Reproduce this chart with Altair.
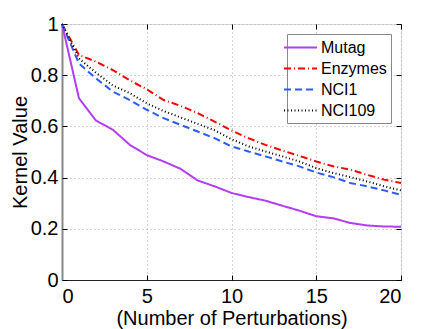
import altair as alt
import pandas as pd

perturbations = list(range(21))
mutag = [1.0, 0.71, 0.623, 0.587, 0.528, 0.488, 0.463, 0.434, 0.389, 0.366, 0.34,
         0.324, 0.31, 0.29, 0.271, 0.249, 0.241, 0.223, 0.213, 0.209, 0.208]
enzymes = [1.0, 0.879, 0.853, 0.82, 0.78, 0.745, 0.703, 0.68, 0.652, 0.619, 0.584,
           0.554, 0.528, 0.506, 0.485, 0.463, 0.444, 0.431, 0.411, 0.392, 0.379]
nci1 = [1.0, 0.846, 0.788, 0.736, 0.703, 0.665, 0.632, 0.606, 0.58, 0.554, 0.522,
        0.502, 0.483, 0.463, 0.444, 0.42, 0.402, 0.379, 0.366, 0.35, 0.333]
nci109 = [1.0, 0.865, 0.81, 0.76, 0.73, 0.69, 0.66, 0.635, 0.61, 0.585, 0.55,
          0.522, 0.502, 0.483, 0.463, 0.437, 0.418, 0.402, 0.385, 0.366, 0.35]

series_names = ["Mutag", "Enzymes", "NCI1", "NCI109"]
series_colors = ["#b43cf5", "#ff0000", "#2a5cff", "#000000"]
series_dashes = [[1, 0], [7, 3, 1, 3], [7, 4], [1, 2.5]]
x_ticks = [0, 5, 10, 15, 20]
y_ticks = [0, 0.2, 0.4, 0.6, 0.8, 1.0]

rows = []
for name, vals in zip(series_names, [mutag, enzymes, nci1, nci109]):
    for xv, yv in zip(perturbations, vals):
        rows.append({"x": xv, "y": yv, "series": name})
df = pd.DataFrame(rows)

FONT = "Liberation Sans"
W, H = 339, 256

xs = alt.Scale(domain=[0, 20], nice=False)
ys = alt.Scale(domain=[0, 1], nice=False)

main = alt.Chart(df).mark_line(strokeWidth=2).encode(
    x=alt.X("x:Q", scale=xs,
            axis=alt.Axis(values=x_ticks, title="(Number of Perturbations)",
                          grid=True, gridDash=[1, 3], gridColor="#aaa", gridOpacity=1,
                          ticks=False, domainColor="#222", labelPadding=6,
                          labelFontSize=20, titleFontSize=20, titlePadding=2,
                          labelFont=FONT, titleFont=FONT, titleFontWeight="normal",
                          labelColor="#000", titleColor="#000")),
    y=alt.Y("y:Q", scale=ys,
            axis=alt.Axis(values=y_ticks, format="~g", title="Kernel Value",
                          grid=True, gridDash=[1, 3], gridColor="#aaa", gridOpacity=1,
                          ticks=False, domainColor="#888", domainWidth=2, labelPadding=4,
                          labelFontSize=20, titleFontSize=20, titlePadding=0,
                          labelFont=FONT, titleFont=FONT, titleFontWeight="normal",
                          labelColor="#000", titleColor="#000")),
    color=alt.Color("series:N", scale=alt.Scale(domain=series_names, range=series_colors),
                    legend=alt.Legend(title=None, orient="none", legendX=225, legendY=10,
                                      symbolType="M-2,0H2", symbolSize=272, symbolStrokeWidth=2,
                                      symbolFillColor="transparent",
                                      labelFontSize=16, labelFont=FONT, labelColor="#000",
                                      rowPadding=3, padding=4, strokeColor="#888",
                                      fillColor="white", labelOffset=11)),
    strokeDash=alt.StrokeDash("series:N", scale=alt.Scale(domain=series_names, range=series_dashes),
                              legend=None),
)

tick_common = dict(grid=False, domain=False, labels=False, ticks=True, tickSize=5,
                   tickColor="#000", title=None)

inner1 = alt.Chart(df).mark_point(opacity=0).encode(
    x=alt.X("x:Q", scale=xs, axis=alt.Axis(orient="top", offset=-H, values=x_ticks, **tick_common)),
    y=alt.Y("y:Q", scale=ys, axis=alt.Axis(orient="right", offset=-W, values=y_ticks, **tick_common)),
)
inner2 = alt.Chart(df).mark_point(opacity=0).encode(
    x=alt.X("x:Q", scale=xs, axis=alt.Axis(orient="bottom", offset=-H, values=x_ticks, **tick_common)),
    y=alt.Y("y:Q", scale=ys, axis=alt.Axis(orient="left", offset=-W, values=y_ticks, **tick_common)),
)

chart = alt.layer(main, inner1, inner2).resolve_axis(x="independent", y="independent").properties(
    width=W, height=H,
    autosize=alt.AutoSizeParams(type="none"),
    padding={"left": 54, "top": 16, "right": 30, "bottom": 49},
).configure_view(stroke="#000", strokeWidth=1).configure(background="white")

chart.save("out.html", embed_options={"renderer": "svg", "actions": False})
